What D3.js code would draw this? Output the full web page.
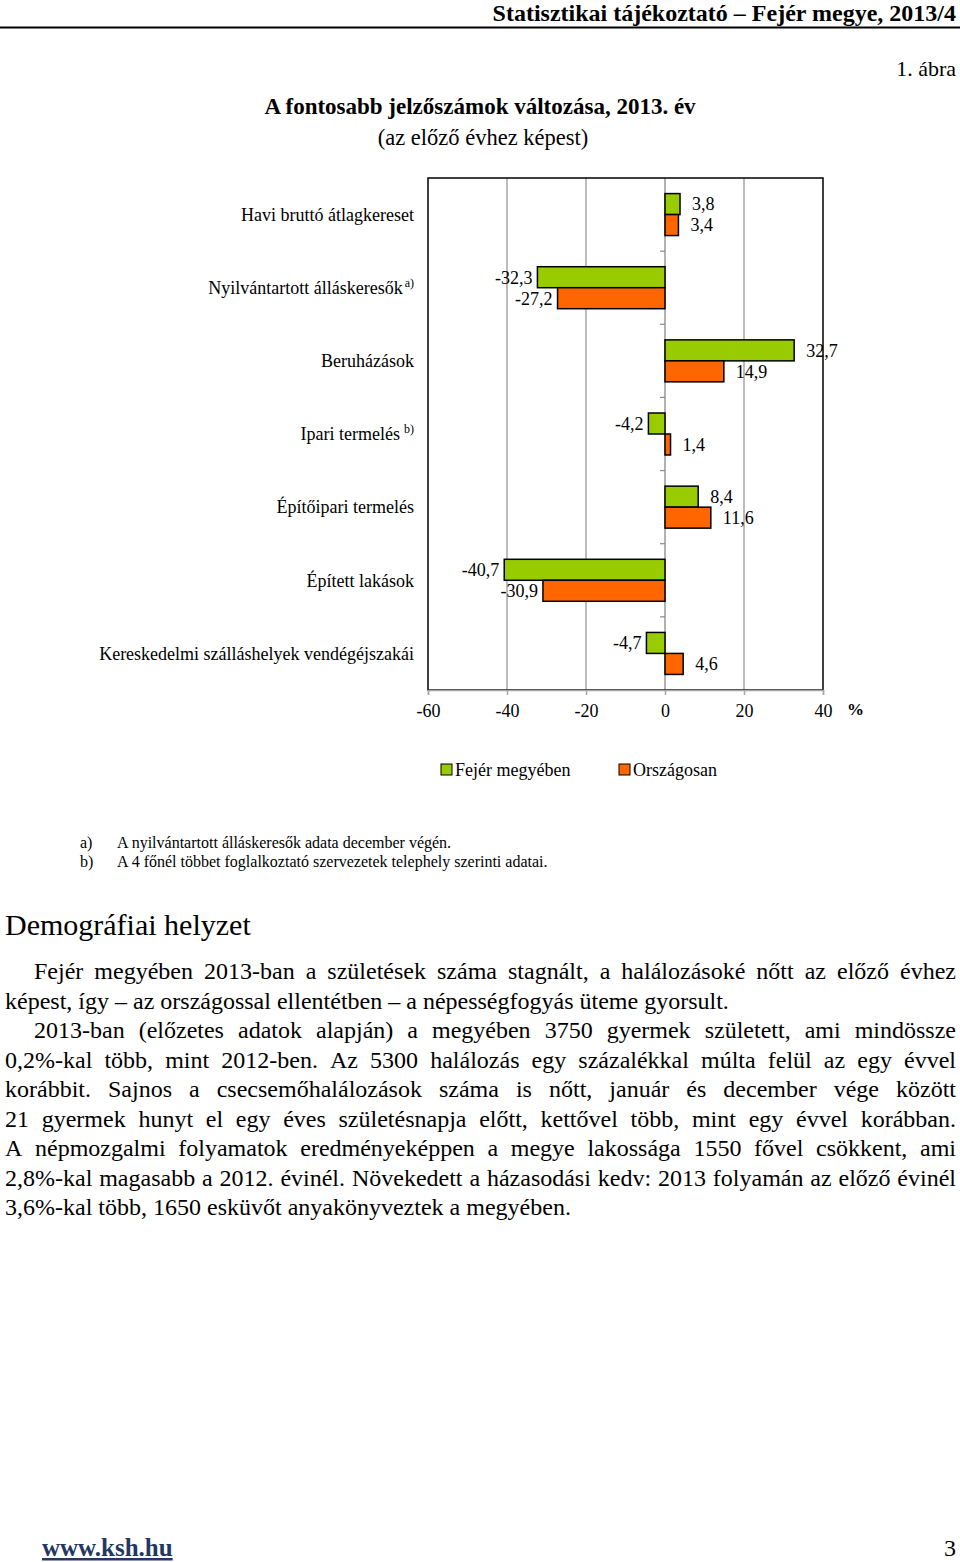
<!DOCTYPE html>
<html>
<head>
<meta charset="utf-8">
<script src="https://cdn.jsdelivr.net/npm/d3@7"></script>
<style>
  body { margin: 0; background: #fff; }
  svg { display: block; }
  text { font-family: "Liberation Serif", "DejaVu Serif", serif; fill: #000; }
</style>
</head>
<body>
<div id="page"></div>
<script>
// chart data
var categories = ["Havi bruttó átlagkereset", "Nyilvántartott álláskeresők", "Beruházások",
    "Ipari termelés", "Építőipari termelés", "Épített lakások",
    "Kereskedelmi szálláshelyek vendégéjszakái"];
var notes = ["", "a)", "", "b)", "", "", ""];
var fejer = [3.8, -32.3, 32.7, -4.2, 8.4, -40.7, -4.7];
var orszag = [3.4, -27.2, 14.9, 1.4, 11.6, -30.9, 4.6];
var seriesNames = ["Fejér megyében", "Országosan"];
var seriesColors = ["#99cc00", "#ff6600"];
var xTicks = [-60, -40, -20, 0, 20, 40];

var footnotes = [
    ["a)", "A nyilvántartott álláskeresők adata december végén."],
    ["b)", "A 4 főnél többet foglalkoztató szervezetek telephely szerinti adatai."]
];

// paragraph lines as laid out in the page: [text, indent, justify]
var paraLines = [
    ["Fejér megyében 2013-ban a születések száma stagnált, a halálozásoké nőtt az előző évhez", true, true],
    ["képest, így – az országossal ellentétben – a népességfogyás üteme gyorsult.", false, false],
    ["2013-ban (előzetes adatok alapján) a megyében 3750 gyermek született, ami mindössze", true, true],
    ["0,2%-kal több, mint 2012-ben. Az 5300 halálozás egy százalékkal múlta felül az egy évvel", false, true],
    ["korábbit.  Sajnos a csecsemőhalálozások száma is nőtt, január és december vége között", false, true],
    ["21 gyermek hunyt el egy éves születésnapja előtt, kettővel több, mint egy évvel korábban.", false, true],
    ["A népmozgalmi folyamatok eredményeképpen a megye lakossága 1550 fővel csökkent, ami", false, true],
    ["2,8%-kal magasabb a 2012. évinél.  Növekedett a házasodási kedv: 2013 folyamán az előző évinél", false, true],
    ["3,6%-kal több, 1650 esküvőt anyakönyveztek a megyében.", false, false]
];

var W = 960, H = 1562;
var svg = d3.select("#page").append("svg")
    .attr("width", W)
    .attr("height", H);

var hu = d3.formatLocale({decimal: ",", thousands: " ", grouping: [3], currency: ["", " Ft"], minus: "-"});
var fmt = hu.format(".1f");

// ---- page header
svg.append("text")
    .attr("x", 956).attr("y", 21)
    .attr("text-anchor", "end")
    .style("font-size", "24px").style("font-weight", "bold")
    .text("Statisztikai tájékoztató – Fejér megye, 2013/4");
svg.append("line")
    .attr("x1", 0).attr("x2", 960).attr("y1", 27.5).attr("y2", 27.5)
    .attr("stroke", "#000").attr("stroke-width", 2);

svg.append("text")
    .attr("x", 956).attr("y", 76)
    .attr("text-anchor", "end")
    .style("font-size", "22px")
    .text("1. ábra");

svg.append("text")
    .attr("x", 480).attr("y", 114)
    .attr("text-anchor", "middle")
    .style("font-size", "23px").style("font-weight", "bold")
    .text("A fontosabb jelzőszámok változása, 2013. év");
svg.append("text")
    .attr("x", 483).attr("y", 145)
    .attr("text-anchor", "middle")
    .style("font-size", "22.5px")
    .text("(az előző évhez képest)");

// ---- chart
var plot = {left: 428, right: 823, top: 178, bottom: 690};

var x = d3.scaleLinear().domain([-60, 40]).range([plot.left, plot.right]);
var y = d3.scaleBand().domain(categories).range([plot.top, plot.bottom])
    .paddingInner(0.426).paddingOuter(0.213);
var ySub = d3.scaleBand().domain([0, 1]).range([0, y.bandwidth()]);

var chart = svg.append("g");

// gridlines
chart.selectAll("line.grid")
    .data(xTicks.filter(function(d) { return d !== -60 && d !== 40; }))
    .enter().append("line")
    .attr("class", "grid")
    .attr("x1", function(d) { return x(d); })
    .attr("x2", function(d) { return x(d); })
    .attr("y1", plot.top).attr("y2", plot.bottom)
    .attr("stroke", "#a6a6a6").attr("stroke-width", 1.5);

// frame
chart.append("rect")
    .attr("x", plot.left).attr("y", plot.top)
    .attr("width", plot.right - plot.left).attr("height", plot.bottom - plot.top)
    .attr("fill", "none").attr("stroke", "#000").attr("stroke-width", 1.5);

// category ticks on the zero line
var catEdges = categories.slice(1).map(function(c) { return y(c) - y.step() * y.paddingInner() / 2; });
chart.selectAll("line.ctick")
    .data(catEdges)
    .enter().append("line")
    .attr("x1", x(0) - 5).attr("x2", x(0))
    .attr("y1", function(d) { return d; }).attr("y2", function(d) { return d; })
    .attr("stroke", "#888").attr("stroke-width", 1.2);

// bars
var rows = categories.map(function(c, i) {
    return {cat: c, vals: [fejer[i], orszag[i]]};
});
var groups = chart.selectAll("g.cat")
    .data(rows)
    .enter().append("g")
    .attr("class", "cat")
    .attr("transform", function(d) { return "translate(0," + y(d.cat) + ")"; });

groups.selectAll("rect")
    .data(function(d) { return d.vals.map(function(v, k) { return {v: v, k: k}; }); })
    .enter().append("rect")
    .attr("x", function(d) { return Math.min(x(0), x(d.v)); })
    .attr("y", function(d) { return ySub(d.k); })
    .attr("width", function(d) { return Math.abs(x(d.v) - x(0)); })
    .attr("height", ySub.bandwidth())
    .attr("fill", function(d) { return seriesColors[d.k]; })
    .attr("stroke", "#000").attr("stroke-width", 1.5);

// value labels
groups.selectAll("text.val")
    .data(function(d) { return d.vals.map(function(v, k) { return {v: v, k: k}; }); })
    .enter().append("text")
    .attr("class", "val")
    .attr("x", function(d) { return d.v >= 0 ? x(d.v) + 12 : x(d.v) - 5; })
    .attr("y", function(d) { return ySub(d.k) + ySub.bandwidth() / 2; })
    .attr("dy", "0.35em")
    .attr("text-anchor", function(d) { return d.v >= 0 ? "start" : "end"; })
    .style("font-size", "18px")
    .text(function(d) { return fmt(d.v); });

// x axis
var xAxis = chart.append("g")
    .attr("transform", "translate(0," + plot.bottom + ")")
    .call(d3.axisBottom(x).tickValues(xTicks).tickSize(5).tickPadding(9).tickFormat(hu.format("d")));
xAxis.select(".domain").attr("stroke", "#a6a6a6").attr("stroke-width", 1.5);
xAxis.selectAll(".tick line").attr("stroke", "#a6a6a6").attr("stroke-width", 1.5);
xAxis.selectAll(".tick text")
    .style("font-family", "'Liberation Serif', serif")
    .style("font-size", "18px").attr("fill", "#000");

// zero line
chart.append("line")
    .attr("x1", x(0)).attr("x2", x(0)).attr("y1", plot.top).attr("y2", plot.bottom)
    .attr("stroke", "#a6a6a6").attr("stroke-width", 1)
    .lower();

svg.append("text")
    .attr("x", 847).attr("y", 715)
    .style("font-size", "17px").style("font-weight", "bold")
    .text("%");

// category labels
var catLabels = chart.selectAll("text.cat")
    .data(categories)
    .enter().append("text")
    .attr("class", "cat")
    .attr("x", 414)
    .attr("y", function(d) { return y(d) + y.bandwidth() / 2; })
    .attr("dy", "0.35em")
    .attr("text-anchor", "end")
    .style("font-size", "18px");
catLabels.append("tspan").text(function(d) { return d; });
catLabels.filter(function(d, i) { return notes[i] !== ""; })
    .append("tspan")
    .attr("dy", "-0.6em")
    .attr("dx", function(d) { return categories.indexOf(d) === 1 ? 2 : 4; })
    .style("font-size", "12px")
    .text(function(d) { return notes[categories.indexOf(d)]; });

// legend
var legendX = [441, 619];
var legend = svg.selectAll("g.legend")
    .data(seriesNames)
    .enter().append("g")
    .attr("class", "legend")
    .attr("transform", function(d, i) { return "translate(" + legendX[i] + ",770)"; });
legend.append("rect")
    .attr("x", 0).attr("y", -6).attr("width", 11).attr("height", 11)
    .attr("fill", function(d, i) { return seriesColors[i]; })
    .attr("stroke", "#000").attr("stroke-width", 1);
legend.append("text")
    .attr("x", 14).attr("y", 0).attr("dy", "0.35em")
    .style("font-size", "18px")
    .text(function(d) { return d; });

// footnotes
footnotes.forEach(function(f, i) {
    svg.append("text").attr("x", 80).attr("y", 848 + i * 19)
        .style("font-size", "16px").text(f[0]);
    svg.append("text").attr("x", 117).attr("y", 848 + i * 19)
        .style("font-size", "16px").text(f[1]);
});

// ---- text section
svg.append("text")
    .attr("x", 5).attr("y", 935)
    .style("font-size", "30px")
    .text("Demográfiai helyzet");

var para = svg.append("g").style("font-size", "24px");
var measure = para.append("text").attr("x", -1000).attr("y", -1000);
function wordWidth(w) {
    measure.text(w);
    return measure.node().getComputedTextLength();
}
var spaceW = wordWidth("a b") - wordWidth("ab");

paraLines.forEach(function(line, i) {
    var ly = 979 + i * 29.5;
    var x0 = line[1] ? 34 : 5, x1 = 956;
    var words = line[0].split(/\s+/);
    var widths = words.map(wordWidth);
    var total = d3.sum(widths);
    var gap = spaceW;
    if (line[2] && words.length > 1) gap = (x1 - x0 - total) / (words.length - 1);
    if (gap < 3) {
        para.append("text").attr("x", x0).attr("y", ly)
            .attr("textLength", x1 - x0).attr("lengthAdjust", "spacingAndGlyphs")
            .text(words.join(" "));
        return;
    }
    var t = para.append("text").attr("y", ly);
    var cx = x0;
    words.forEach(function(w, k) {
        t.append("tspan").attr("x", cx).text(w);
        cx += widths[k] + gap;
    });
});
measure.remove();

// ---- footer
svg.append("text")
    .attr("x", 42).attr("y", 1556)
    .style("font-size", "25px").style("font-weight", "bold")
    .style("fill", "#1f3864")
    .style("text-decoration", "underline")
    .text("www.ksh.hu");
svg.append("text")
    .attr("x", 956).attr("y", 1556)
    .attr("text-anchor", "end")
    .style("font-size", "24px")
    .text("3");
</script>
</body>
</html>
